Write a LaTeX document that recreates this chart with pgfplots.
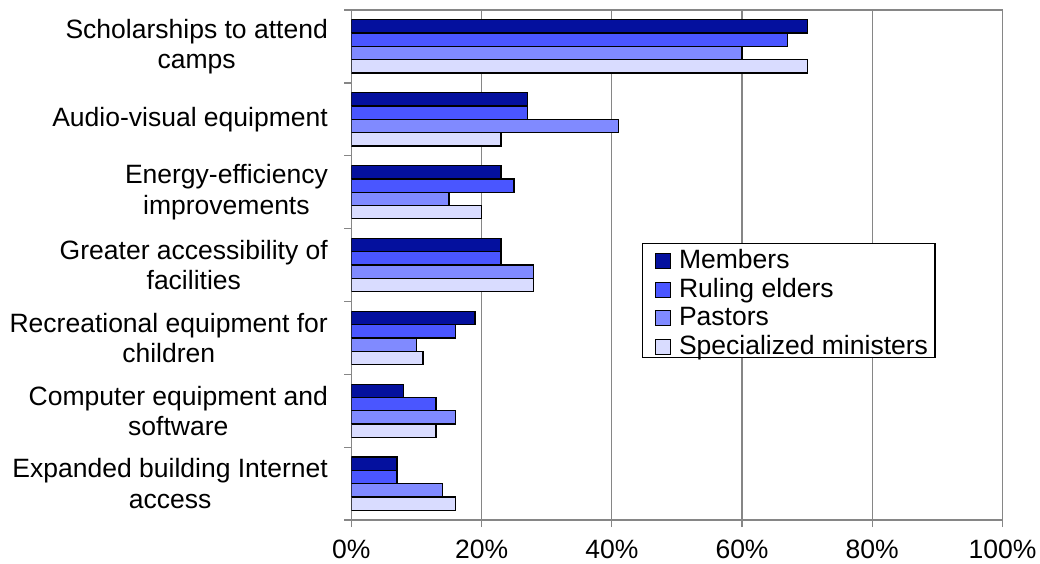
\documentclass[border=0pt]{standalone}
\usepackage{pgfplots}
\pgfplotsset{compat=1.18}
\usepackage{fontspec}
\setmainfont{Liberation Sans}
\definecolor{members}{RGB}{4,16,158}
\definecolor{elders}{RGB}{74,86,255}
\definecolor{pastors}{RGB}{128,138,255}
\definecolor{special}{RGB}{217,220,255}
\definecolor{gridgray}{RGB}{134,134,134}

\begin{document}
\begin{tikzpicture}
	\begin{axis}[
		name=ax,
		scale only axis,
		width=651pt, height=510pt,
		font=\fontsize{26.5}{30.5}\selectfont,
		xbar=0pt, bar width=13.3pt,
		% X
		xmin=0, xmax=100,
		xtick={0,20,40,60,80,100},
		xticklabels={0\%,20\%,40\%,60\%,80\%,100\%},
		xticklabel style={yshift=-9pt},
		xtick pos=bottom,
		xmajorgrids,
		grid style={draw=gridgray, line width=1.3pt},
		% Y
		ymin=-0.5, ymax=6.5, y dir=reverse,
		ytick={0,1,2,3,4,5,6},
		yticklabels={
			{Scholarships to attend\\camps},
			{Audio-visual equipment},
			{Energy-efficiency\\improvements},
			{Greater accessibility of\\facilities},
			{Recreational equipment for\\children},
			{Computer equipment and\\software},
			{Expanded building Internet\\access}},
		yticklabel style={align=center, xshift=-13pt},
		minor ytick={-0.5,0.5,1.5,2.5,3.5,4.5,5.5,6.5},
		ytick pos=left,
		major y tick style={draw=none},
		tick align=outside,
		major tick length=7pt, minor tick length=7pt,
		tick style={draw=gridgray, line width=1.3pt},
		axis line style={draw=gridgray, line width=1.3pt},
		% legend
		legend image code/.code={
			\path (0pt,0pt);
			\draw[#1] (7pt,0pt) rectangle (22pt,15pt);},
		legend style={
			at={(0.4465,0.543)}, anchor=north west,
			draw=black, fill=white, line width=1.3pt,
			inner xsep=5pt, inner ysep=0pt,
			column sep=6pt,
			font=\fontsize{26.5}{30.5}\selectfont,
			cells={anchor=base west, inner xsep=0pt, inner ysep=0pt,
				text height=23pt, text depth=8pt},
		},
		every axis plot/.append style={draw=black, line width=1.3pt},
		]
		\addplot[fill=members, bar shift=19.95pt] coordinates {(70,0) (27,1) (23,2) (23,3) (19,4) (8,5) (7,6)};
		\addplot[fill=elders, bar shift=6.65pt] coordinates {(67,0) (27,1) (25,2) (23,3) (16,4) (13,5) (7,6)};
		\addplot[fill=pastors, bar shift=-6.65pt] coordinates {(60,0) (41,1) (15,2) (28,3) (10,4) (16,5) (14,6)};
		\addplot[fill=special, bar shift=-19.95pt] coordinates {(70,0) (23,1) (20,2) (28,3) (11,4) (13,5) (16,6)};
		\legend{Members, Ruling elders, Pastors, Specialized ministers}
	\end{axis}
	\pgfresetboundingbox
	\path ([xshift=-351.3pt,yshift=-43pt]ax.south west) rectangle ([xshift=37.5pt,yshift=10pt]ax.north east);
\end{tikzpicture}
\end{document}
